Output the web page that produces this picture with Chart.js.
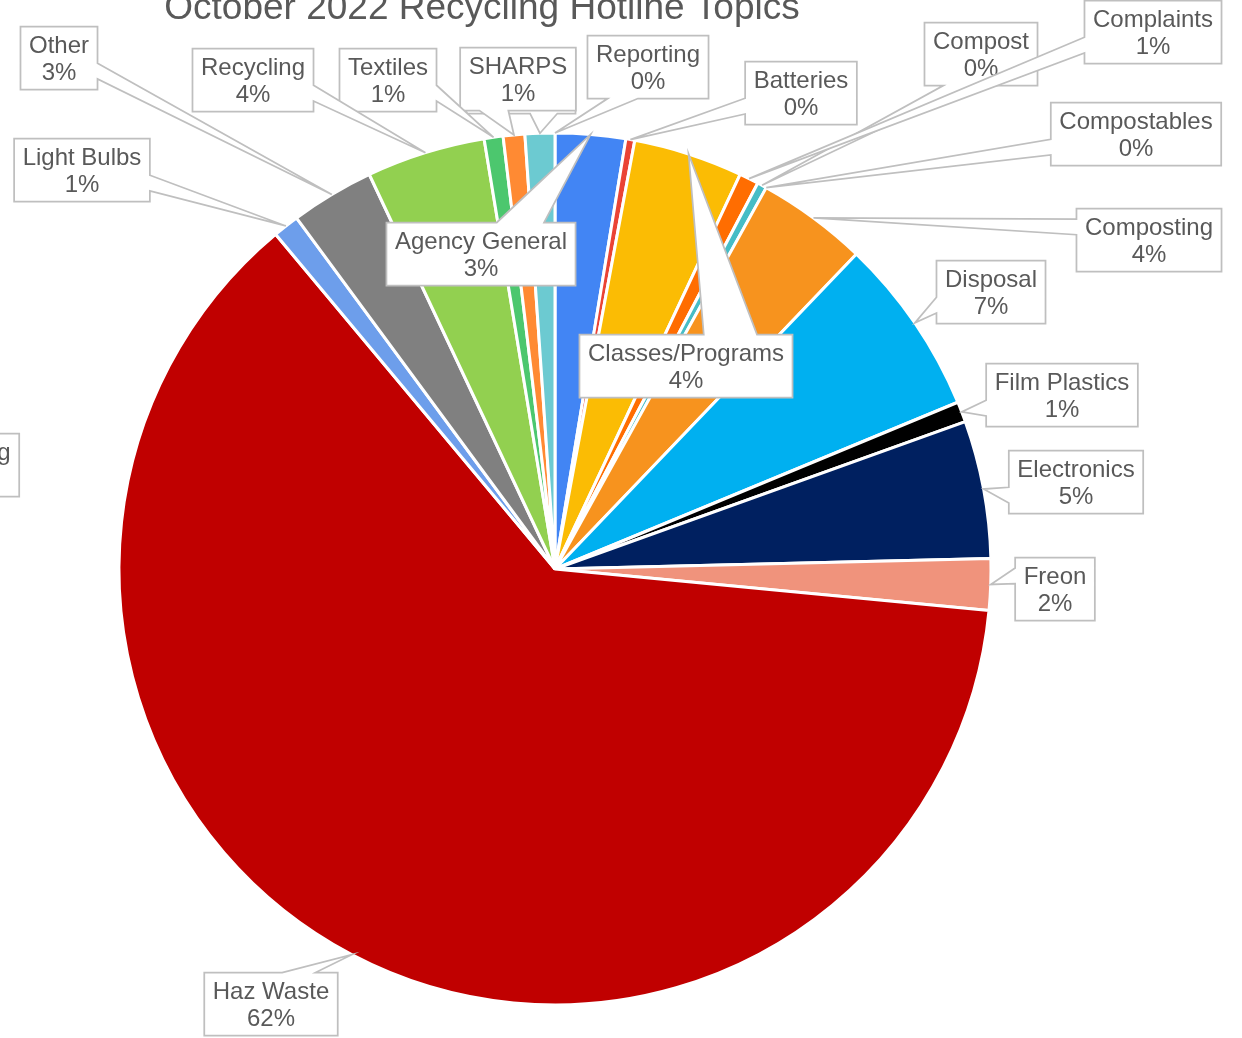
<!DOCTYPE html>
<html>
<head>
<meta charset="utf-8">
<script src="https://cdn.jsdelivr.net/npm/chart.js@4.4.0/dist/chart.umd.min.js"></script>
<style>
  html, body { margin: 0; padding: 0; background: #ffffff; }
  #wrap { width: 1242px; height: 1038px; }
</style>
</head>
<body>
<div id="wrap"><canvas id="hotlineChart" width="1242" height="1038"></canvas></div>
<script>
// Data
const chartTitle = 'October 2022 Recycling Hotline Topics';
const topics = [
    'Agency General', 'Batteries', 'Classes/Programs', 'Complaints', 'Compost',
    'Compostables', 'Composting', 'Disposal', 'Film Plastics', 'Electronics',
    'Freon', 'Haz Waste', 'Illegal Dumping', 'Light Bulbs', 'Other',
    'Recycling', 'Textiles', 'SHARPS', 'Used Oil', 'Reporting'
];
const shares = [
    2.6, 0.33, 4.05, 0.72, 0.35,
    0, 4.1, 6.6, 0.76, 5.1,
    1.9, 62.4, 0, 0.97, 3.1,
    4.4, 0.7, 0.8, 1.1, 0
];
const sliceColors = [
    '#4285F4', '#EA4335', '#FBBC04', '#FF6D01', '#46BDC6',
    '#7BAAF7', '#F7931E', '#00B0F0', '#000000', '#002060',
    '#F0937C', '#C00000', '#A5A5A5', '#6D9EEB', '#808080',
    '#92D050', '#4CC76E', '#FF8A33', '#6CCAD1', '#4285F4'
];

// Label box centres, and whether the box points at its slice
const labelSpots = [
    [481, 254, true], [801, 93, true], [686, 366, true], [1153, 32, true], [981, 54, true],
    [1136, 134, true], [1149, 240, true], [991, 292, true], [1062, 395, true], [1076, 482, true],
    [1055, 589, true], [271, 1004, true], [-72, 465, false], [82, 170, true], [59, 58, true],
    [253, 80, true], [388, 80, true], [518, 79, true], [521, 82, true], [648, 67, true]
];

const labelFont = '24px "Liberation Sans", Arial, sans-serif';
const textGray = '#595959';
const lineGray = '#BFBFBF';

// Office style rectangular callout outline
function calloutPath(ctx, l, t, w, h, tx, ty, pointer) {
    const r = l + w, b = t + h;
    ctx.beginPath();
    if (!pointer) {
        ctx.rect(l, t, w, h);
        return;
    }
    const dx = tx - (l + w / 2), dy = ty - (t + h / 2);
    const dz = Math.abs(dy) - Math.abs(dx * h / w);
    const x1 = l + w * (dx > 0 ? 7 : 2) / 12, x2 = l + w * (dx > 0 ? 10 : 5) / 12;
    const y1 = t + h * (dy > 0 ? 7 : 2) / 12, y2 = t + h * (dy > 0 ? 10 : 5) / 12;
    ctx.moveTo(l, t);
    if (dz > 0 && dy < 0) { ctx.lineTo(x1, t); ctx.lineTo(tx, ty); ctx.lineTo(x2, t); }
    ctx.lineTo(r, t);
    if (dz <= 0 && dx > 0) { ctx.lineTo(r, y1); ctx.lineTo(tx, ty); ctx.lineTo(r, y2); }
    ctx.lineTo(r, b);
    if (dz > 0 && dy > 0) { ctx.lineTo(x2, b); ctx.lineTo(tx, ty); ctx.lineTo(x1, b); }
    ctx.lineTo(l, b);
    if (dz <= 0 && dx < 0) { ctx.lineTo(l, y2); ctx.lineTo(tx, ty); ctx.lineTo(l, y1); }
    ctx.closePath();
}

const calloutPlugin = {
    id: 'callouts',
    afterDraw(chart) {
        const ctx = chart.ctx;
        const meta = chart.getDatasetMeta(0);
        const values = chart.data.datasets[0].data;
        const total = values.reduce((a, v) => a + v, 0);

        ctx.save();
        // Title (cut off at the top, like the original)
        ctx.font = '37px "Liberation Sans", Arial, sans-serif';
        ctx.fillStyle = textGray;
        ctx.textAlign = 'center';
        ctx.textBaseline = 'alphabetic';
        ctx.fillText(chartTitle, 482, 19);

        ctx.font = labelFont;
        // draw from last to first so earlier labels sit on top
        for (let i = meta.data.length - 1; i >= 0; i--) {
            const arc = meta.data[i];
            const mid = (arc.startAngle + arc.endAngle) / 2;
            const tx = arc.x + arc.outerRadius * Math.cos(mid);
            const ty = arc.y + arc.outerRadius * Math.sin(mid);
            const name = chart.data.labels[i];
            const pct = Math.round(values[i] / total * 100) + '%';
            const w = Math.max(ctx.measureText(name).width, ctx.measureText(pct).width) + 17;
            const h = 63;
            const l = labelSpots[i][0] - w / 2;
            const t = labelSpots[i][1] - h / 2;

            calloutPath(ctx, l, t, w, h, tx, ty, labelSpots[i][2]);
            ctx.fillStyle = '#ffffff';
            ctx.fill();
            ctx.lineWidth = 1.75;
            ctx.strokeStyle = lineGray;
            ctx.stroke();

            ctx.fillStyle = textGray;
            ctx.fillText(name, labelSpots[i][0], t + 26);
            ctx.fillText(pct, labelSpots[i][0], t + 53);
        }
        ctx.restore();
    }
};

new Chart(document.getElementById('hotlineChart'), {
    type: 'pie',
    data: {
        labels: topics,
        datasets: [{
            data: shares,
            backgroundColor: sliceColors,
            borderColor: '#ffffff',
            borderWidth: 3,
            radius: 436
        }]
    },
    options: {
        responsive: false,
        animation: false,
        layout: { padding: { left: 0, right: 132, top: 100, bottom: 0 } },
        plugins: {
            legend: { display: false },
            tooltip: { enabled: false }
        }
    },
    plugins: [calloutPlugin]
});
</script>
</body>
</html>
